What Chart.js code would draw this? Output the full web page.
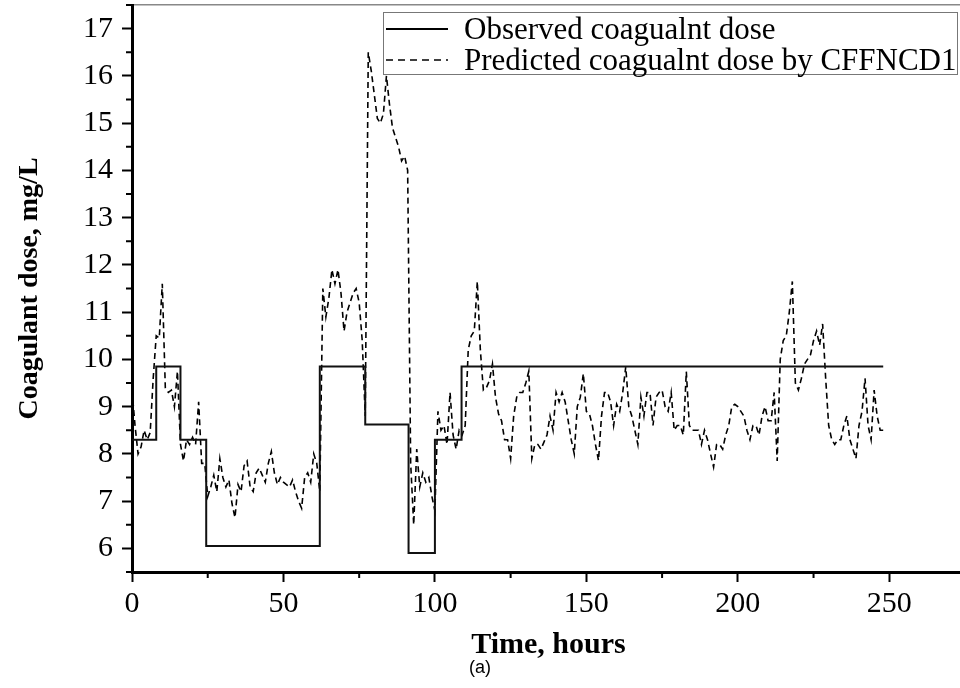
<!DOCTYPE html>
<html>
<head>
<meta charset="utf-8">
<title>Coagulant dose</title>
<script src="https://cdn.jsdelivr.net/npm/chart.js@4.4.1/dist/chart.umd.min.js"></script>
<style>
    html, body { margin: 0; padding: 0; background: #fff; overflow: hidden; }
    #wrap { position: relative; width: 966px; height: 688px; }
    #legend {
        position: absolute; left: 383px; top: 12px; width: 575px; height: 63px;
        box-sizing: border-box; border: 1.5px solid #777; background: #fff; padding-top: 0;
        font-family: "Liberation Serif", "Times New Roman", serif; font-size: 31px; color: #000;
    }
    .legend-item { display: flex; align-items: center; height: 31px; white-space: nowrap; }
    .legend-item svg { margin: 0 16px 0 2px; flex: none; }
    #caption {
        position: absolute; left: 0; width: 960px; top: 657px; text-align: center;
        font-family: "Liberation Sans", Arial, sans-serif; font-size: 18px; color: #000;
    }
</style>
</head>
<body>
<div id="wrap">
    <canvas id="chart" width="966" height="688"></canvas>
    <div id="legend"></div>
    <div id="caption">(a)</div>
</div>
<script>
// Observed dose (step changes), hours / mg/L
var obsTime = [0, 8, 8, 16, 16, 24.5, 24.5, 62, 62, 77, 77, 91.3, 91.3, 100, 100, 108.8, 108.8, 248];
var obsDose = [8.3, 8.3, 9.85, 9.85, 8.3, 8.3, 6.05, 6.05, 9.85, 9.85, 8.62, 8.62, 5.9, 5.9, 8.3, 8.3, 9.85, 9.85];

// Predicted dose, one reading per hour starting at hour 0
var sampleStepHours = 1;
var predDose = [
    9.35, 8.6, 8.0, 8.15, 8.5, 8.3, 8.45, 9.6, 10.5, 10.45,
    11.6, 9.4, 9.3, 9.35, 9.0, 9.75, 8.2, 7.85, 8.3, 8.2,
    8.35, 8.2, 9.1, 7.8, 7.8, 7.1, 7.3, 7.55, 7.2, 7.9,
    7.5, 7.3, 7.45, 6.95, 6.65, 7.35, 7.2, 7.75, 7.85, 7.3,
    7.2, 7.6, 7.7, 7.55, 7.4, 7.8, 8.05, 7.6, 7.35, 7.5,
    7.4, 7.35, 7.3, 7.45, 7.2, 7.0, 6.85, 7.5, 7.6, 7.4,
    8.0, 7.8, 7.2, 11.5, 10.9, 11.3, 11.9, 11.6, 11.9, 11.4,
    10.6, 11.0, 11.2, 11.4, 11.5, 11.2, 10.4, 8.8, 16.5, 16.1,
    15.6, 15.1, 15.0, 15.2, 16.0, 15.4, 14.9, 14.7, 14.5, 14.2,
    14.3, 14.0, 7.8, 6.5, 8.1, 7.3, 7.6, 7.4, 7.5, 7.1,
    6.8, 8.9, 8.5, 8.6, 8.2, 9.3, 8.4, 8.1, 8.5, 8.4,
    8.6, 10.2, 10.5, 10.6, 11.65, 10.2, 9.35, 9.4, 9.55, 9.9,
    9.2, 8.85, 8.7, 8.3, 8.3, 7.9, 8.8, 9.2, 9.3, 9.3,
    9.5, 9.75, 7.9, 8.2, 8.2, 8.1, 8.25, 8.4, 8.8, 8.5,
    9.3, 9.1, 9.3, 9.1, 8.7, 8.3, 8.0, 9.0, 9.2, 9.7,
    8.9, 8.85, 8.6, 8.2, 7.86, 8.8, 9.3, 9.3, 9.1, 8.6,
    9.05, 8.9, 9.3, 9.84, 9.0, 8.8, 8.5, 8.2, 9.2, 8.8,
    9.3, 9.3, 8.6, 9.2, 9.3, 9.35, 9.0, 8.9, 9.3, 8.5,
    8.6, 8.6, 8.4, 9.74, 8.6, 8.5, 8.5, 8.5, 8.2, 8.5,
    8.3, 8.0, 7.72, 8.2, 8.2, 8.1, 8.4, 8.6, 9.0, 9.05,
    9.0, 8.9, 8.8, 8.5, 8.3, 8.6, 8.6, 8.4, 8.8, 9.0,
    8.7, 8.7, 9.3, 7.85, 10.0, 10.4, 10.5, 11.0, 11.65, 9.5,
    9.35, 9.6, 9.9, 10.0, 10.1, 10.4, 10.6, 10.3, 10.75, 9.6,
    8.6, 8.3, 8.2, 8.3, 8.3, 8.6, 8.8, 8.3, 8.1, 7.9,
    8.6, 8.9, 9.6, 8.6, 8.3, 9.35, 8.8, 8.5, 8.5
];

// Axis ticks
var xTicks = [0, 50, 100, 150, 200, 250];
var xMinorTicks = [25, 75, 125, 175, 225, 275];
var yTicks = [6, 7, 8, 9, 10, 11, 12, 13, 14, 15, 16, 17];
var yMinorTicks = [5.5, 6.5, 7.5, 8.5, 9.5, 10.5, 11.5, 12.5, 13.5, 14.5, 15.5, 16.5, 17.5];

var serif = '"Liberation Serif", "Times New Roman", serif';
Chart.defaults.font.family = serif;
Chart.defaults.color = '#000';

// short minor tick marks on both axes
var minorTickPlugin = {
    id: 'minorTicks',
    afterDraw: function (chart) {
        var ctx = chart.ctx;
        var area = chart.chartArea;
        var xs = chart.scales.x, ys = chart.scales.y;
        ctx.save();
        ctx.strokeStyle = '#000';
        ctx.lineWidth = 2;
        ctx.beginPath();
        xMinorTicks.forEach(function (v) {
            var px = xs.getPixelForValue(v);
            ctx.moveTo(px, area.bottom);
            ctx.lineTo(px, area.bottom + 6);
        });
        yMinorTicks.forEach(function (v) {
            var py = ys.getPixelForValue(v);
            ctx.moveTo(area.left, py);
            ctx.lineTo(area.left - 6, py);
        });
        ctx.stroke();
        ctx.restore();
    }
};

var tickFont = { family: serif, size: 30 };

var chart = new Chart(document.getElementById('chart').getContext('2d'), {
    type: 'line',
    data: {
        datasets: [{
            label: 'Observed coagualnt dose',
            data: obsTime.map(function (t, i) { return { x: t, y: obsDose[i] }; }),
            borderColor: '#111',
            borderWidth: 2,
            pointRadius: 0,
            tension: 0,
            fill: false
        }, {
            label: 'Predicted coagualnt dose by CFFNCD1',
            data: predDose.map(function (v, i) { return { x: i * sampleStepHours, y: v }; }),
            borderColor: '#000',
            borderWidth: 1.6,
            borderDash: [6, 4],
            pointRadius: 0,
            tension: 0,
            fill: false
        }]
    },
    options: {
        responsive: false,
        animation: false,
        devicePixelRatio: 1,
        layout: { padding: { top: 5, right: 1, left: 0, bottom: 0 } },
        plugins: {
            legend: { display: false },
            tooltip: { enabled: false }
        },
        scales: {
            x: {
                type: 'linear',
                position: 'bottom',
                min: 0,
                max: 275,
                afterBuildTicks: function (s) { s.ticks = xTicks.map(function (v) { return { value: v }; }); },
                afterFit: function (s) { s.height = 116; s.paddingLeft = 0; s.paddingRight = 0; },
                ticks: { font: tickFont, color: '#000', padding: 4, maxRotation: 0 },
                grid: { drawOnChartArea: false, drawTicks: true, tickLength: 10, tickWidth: 2, tickColor: '#000' },
                border: { color: '#000', width: 3 },
                title: {
                    display: true,
                    text: 'Time, hours',
                    font: { family: serif, size: 30, weight: 'bold' },
                    color: '#000',
                    padding: { top: 4, bottom: 25 }
                }
            },
            xTop: {
                type: 'linear',
                position: 'top',
                min: 0,
                max: 275,
                ticks: { display: false },
                grid: { display: false, drawTicks: false },
                border: { color: '#888', width: 1.5 },
                afterFit: function (s) { s.height = 0; s.paddingLeft = 0; s.paddingRight = 0; }
            },
            y: {
                min: 5.5,
                max: 17.5,
                afterBuildTicks: function (s) { s.ticks = yTicks.map(function (v) { return { value: v }; }); },
                afterFit: function (s) { s.width = 132; s.paddingTop = 0; s.paddingBottom = 0; },
                ticks: { font: tickFont, color: '#000', padding: 9 },
                grid: { drawOnChartArea: false, drawTicks: true, tickLength: 10, tickWidth: 2, tickColor: '#000' },
                border: { color: '#000', width: 3 },
                title: {
                    display: true,
                    text: 'Coagulant dose, mg/L',
                    font: { family: serif, size: 28, weight: 'bold' },
                    color: '#000',
                    padding: { top: 13, bottom: 0 }
                }
            }
        }
    },
    plugins: [minorTickPlugin]
});

// HTML legend built from the datasets
var legendDiv = document.getElementById('legend');
chart.data.datasets.forEach(function (ds) {
    var dash = ds.borderDash ? ' stroke-dasharray="7 5"' : '';
    legendDiv.innerHTML += '<div class="legend-item"><svg width="62" height="6"><line x1="0" y1="3" x2="62" y2="3" stroke="#000" stroke-width="' +
        (ds.borderDash ? 1.6 : 2) + '"' + dash + '/></svg><span>' + ds.label + '</span></div>';
});
</script>
</body>
</html>
